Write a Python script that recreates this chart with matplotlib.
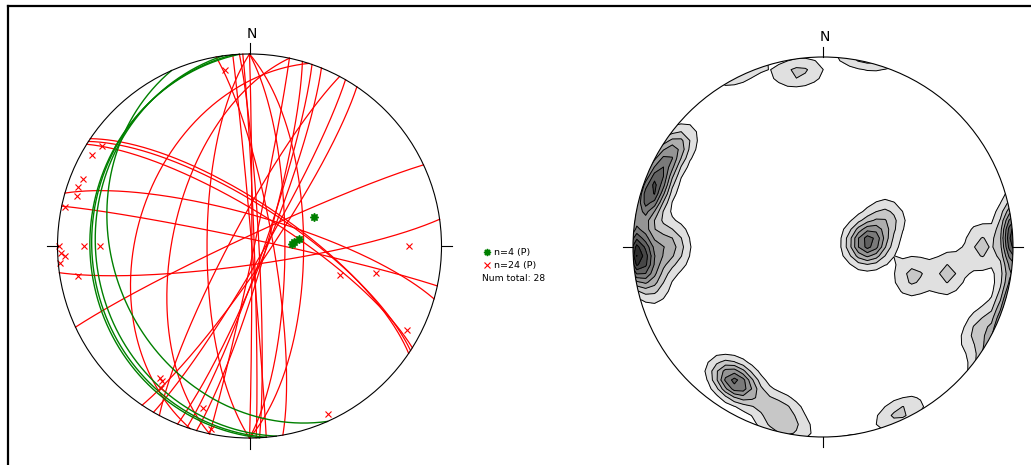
import numpy as np
import matplotlib
matplotlib.use("Agg")
import matplotlib.pyplot as plt
from matplotlib.lines import Line2D
from matplotlib.patches import Circle

# Planes, given as dip direction / dip in degrees (lower hemisphere, equal area)
red_dipdir = [172, 124, 120, 112, 106, 102, 90, 88, 87, 85, 90, 90,
              80, 34, 32, 16, 12, 335, 270, 282, 288, 298, 109, 33]
red_dip = [82, 82, 84, 83, 83, 88, 89, 88, 86, 89, 75, 67,
           80, 72, 76, 77, 87, 86, 72, 57, 41, 82, 84, 73]
green_dipdir = [267, 262, 246, 265]
green_dip = [18, 21, 30, 19]

legend_labels = ["n=4 (P)", "n=24 (P)", "Num total: 28"]

W, H = 1031, 465


def plane_vectors(dipdir, dip):
    d = np.radians(dipdir)
    a = np.radians(dip)
    strike = np.array([np.sin(d - np.pi / 2), np.cos(d - np.pi / 2), 0.0])
    down = np.array([np.sin(d) * np.cos(a), np.cos(d) * np.cos(a), -np.sin(a)])
    t = np.linspace(0, np.pi, 241)
    return np.outer(np.cos(t), strike) + np.outer(np.sin(t), down)


def pole_vector(dipdir, dip):
    tr = np.radians(dipdir + 180)
    pl = np.radians(90 - dip)
    return np.array([np.sin(tr) * np.cos(pl), np.cos(tr) * np.cos(pl), -np.sin(pl)])


def project(v):
    v = np.atleast_2d(v)
    k = 1 / np.sqrt(1 - v[:, 2])
    return v[:, 0] * k, v[:, 1] * k


def net_axes(fig, cx, cy, R):
    half = 1.12 * R
    ax = fig.add_axes([(cx - half) / W, (H - cy - half) / H, 2 * half / W, 2 * half / H])
    ax.set_xlim(-1.12, 1.12)
    ax.set_ylim(-1.12, 1.12)
    ax.set_aspect("equal")
    ax.axis("off")
    return ax


def draw_frame(ax):
    ax.add_patch(Circle((0, 0), 1, fill=False, ec="black", lw=0.8, zorder=6))
    t = 0.055
    for x0, y0, x1, y1 in [(0, 1, 0, 1 + t), (0, -1, 0, -1 - t),
                           (1, 0, 1 + t, 0), (-1, 0, -1 - t, 0)]:
        ax.plot([x0, x1], [y0, y1], color="black", lw=0.8, zorder=6)
    ax.text(0.01, 1.105, "N", ha="center", va="center", fontsize=10)


fig = plt.figure(figsize=(W / 100, H / 100), dpi=100)

# great circles and poles
ax1 = net_axes(fig, 249.5, 246, 192)
for dd, dp in zip(red_dipdir, red_dip):
    x, y = project(plane_vectors(dd, dp))
    ax1.plot(x, y, color="red", lw=0.9, zorder=2)
for dd, dp in zip(green_dipdir, green_dip):
    x, y = project(plane_vectors(dd, dp))
    ax1.plot(x, y, color="green", lw=1.0, zorder=3)

px, py = project(np.array([pole_vector(d, p) for d, p in zip(red_dipdir, red_dip)]))
ax1.plot(px, py, "x", color="red", ms=5, mew=0.8, zorder=4)
gx, gy = project(np.array([pole_vector(d, p) for d, p in zip(green_dipdir, green_dip)]))
ax1.plot(gx, gy, marker=(8, 1, 0), ls="none", color="green", ms=6, zorder=5)
draw_frame(ax1)

# pole density contours
ax2 = net_axes(fig, 823, 247, 190)
poles = np.array([pole_vector(d, p) for d, p in
                  zip(red_dipdir + green_dipdir, red_dip + green_dip)])
xs = np.linspace(-1.12, 1.12, 49)
X, Y = np.meshgrid(xs, xs)
r = np.hypot(X, Y)
c = 2 * np.arcsin(np.clip(r / np.sqrt(2), 0, 1))
az = np.arctan2(X, Y)
grid = np.stack([np.sin(c) * np.sin(az), np.sin(c) * np.cos(az), -np.cos(c)], axis=-1)
k = 100
dens = np.exp(k * (np.abs(grid @ poles.T) - 1)).sum(axis=-1)

levels = np.arange(0.4, dens.max(), 0.45)
greys = [str(g) for g in np.linspace(0.88, 0.08, len(levels))]
clip = Circle((0, 0), 1, transform=ax2.transData)
cf = ax2.contourf(X, Y, dens, levels=list(levels) + [dens.max() + 1], colors=greys)
cl = ax2.contour(X, Y, dens, levels=levels, colors="black", linewidths=0.7)
cf.set_clip_path(clip)
cl.set_clip_path(clip)
draw_frame(ax2)

# legend
fig.add_artist(Line2D([487 / W], [1 - 252 / H], marker=(8, 1, 0), color="green",
                      ms=5, transform=fig.transFigure))
fig.add_artist(Line2D([487 / W], [1 - 265.5 / H], marker="x", color="red",
                      ms=5, mew=0.8, transform=fig.transFigure))
fig.text(494 / W, 1 - 252 / H, legend_labels[0], fontsize=6.8, va="center")
fig.text(494 / W, 1 - 265.5 / H, legend_labels[1], fontsize=6.8, va="center")
fig.text(482 / W, 1 - 278.5 / H, legend_labels[2], fontsize=6.6, va="center")

# outer border
fig.add_artist(Line2D([8 / W, 8 / W], [0, 1 - 6.5 / H], color="black", lw=1.6,
                      transform=fig.transFigure))
fig.add_artist(Line2D([8 / W, 1], [1 - 6.5 / H, 1 - 6.5 / H], color="black", lw=1.6,
                      transform=fig.transFigure))

fig.savefig("out.png", dpi=100)
